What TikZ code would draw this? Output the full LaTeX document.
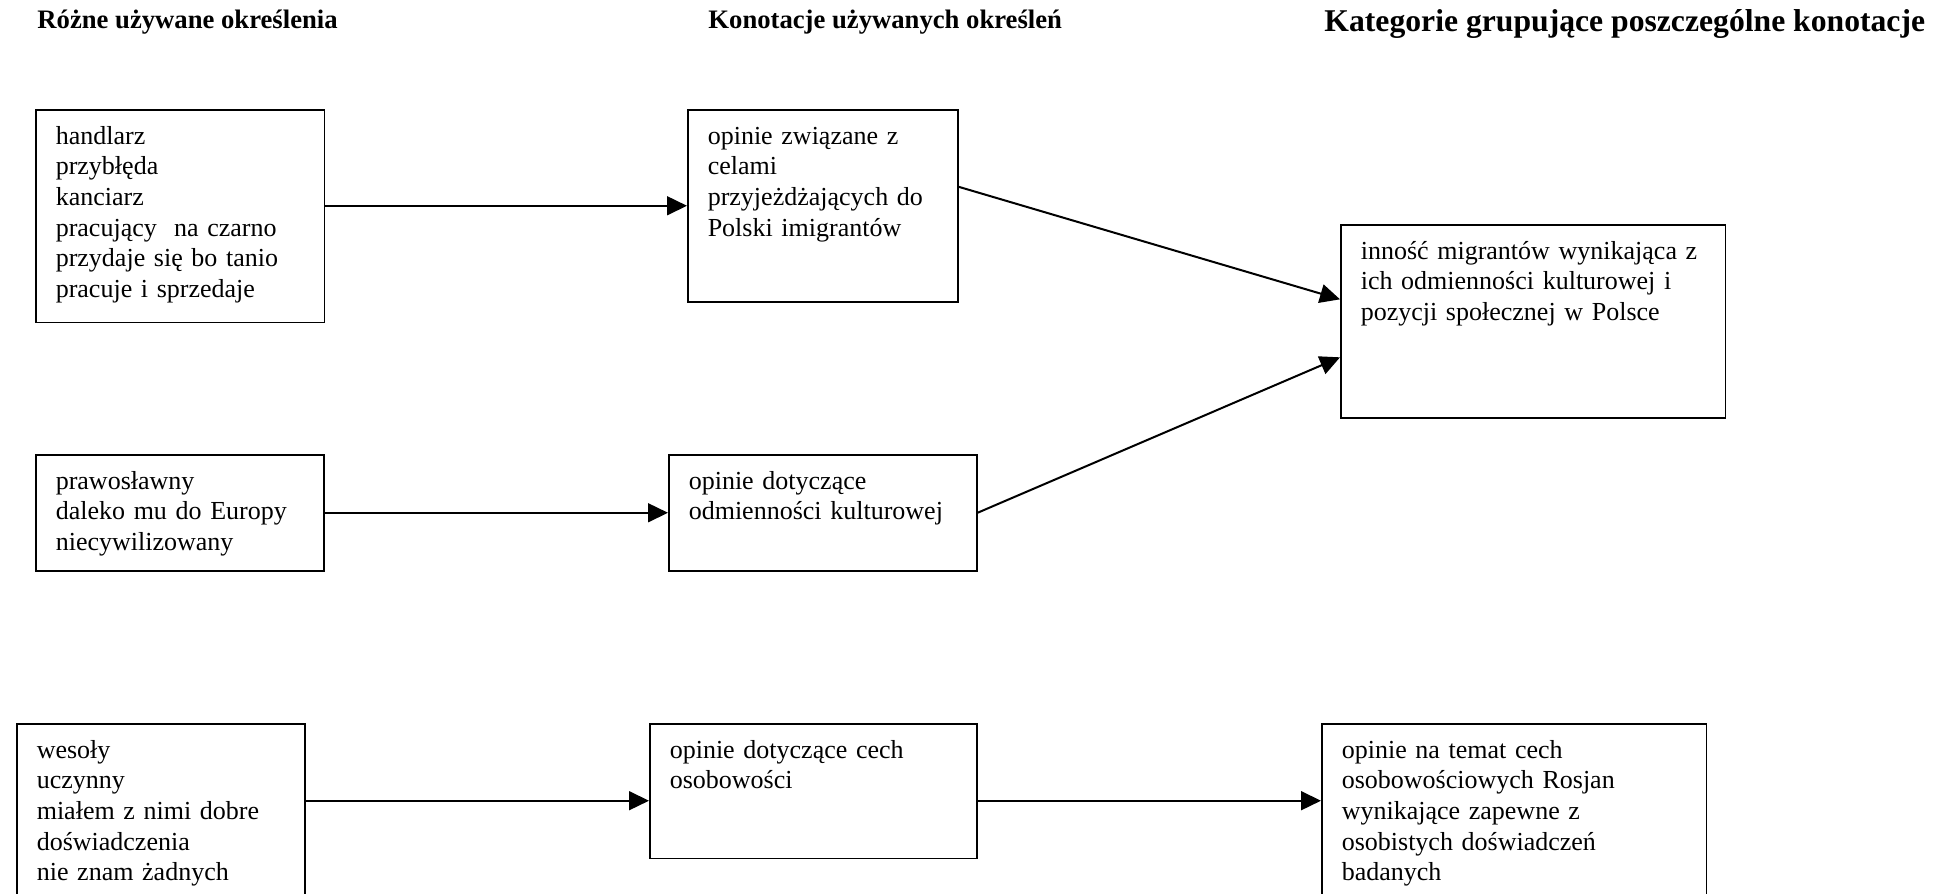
\documentclass[tikz,border=0pt]{standalone}
\usepackage{fontspec}
\setmainfont{Liberation Serif}
\usetikzlibrary{arrows.meta, calc}

\begin{document}
\begin{tikzpicture}[x=0.45pt, y=-0.45pt, >={Triangle[length=9pt, width=8.5pt]},
    box/.style={draw, rectangle, anchor=north west, align=left, line width=0.7pt,
        inner xsep=9pt, inner ysep=0pt, text height=15.5pt,
        font=\fontsize{11.7}{13.8}\selectfont},
    head/.style={anchor=base west, inner sep=0pt, font=\bfseries\fontsize{12}{14}\selectfont},
    link/.style={->, line width=0.9pt}]

    \clip (0,0) rectangle (1953,894);

    % Column headers
    \node[head] (T1) at (37,29) {Różne używane określenia};
    \node[head] (T2) at (708,29) {Konotacje używanych określeń};
    \node[head, font=\bfseries\fontsize{14.25}{16}\selectfont] (T3) at (1324,32) {Kategorie grupujące poszczególne konotacje};

    % First column
    \node[box, text width=112pt, text depth=80.3pt] (B1) at (35,109)
        {handlarz\\przybłęda\\kanciarz\\pracujący \ na czarno\\przydaje się bo tanio\\pracuje i sprzedaje};
    \node[box, text width=111.6pt, text depth=36.7pt] (B4) at (35,454)
        {prawosławny\\daleko mu do Europy\\niecywilizowany};
    \node[box, text width=111.6pt, text depth=80pt] (B6) at (16,723)
        {wesoły\\uczynny\\miałem z nimi dobre\\doświadczenia\\nie znam żadnych};

    % Second column
    \node[box, text width=103.5pt, text depth=70.9pt] (B2) at (687,109)
        {opinie związane z\\celami\\przyjeżdżających do\\Polski imigrantów};
    \node[box, text width=120.6pt, text depth=36.7pt] (B5) at (668,454)
        {opinie dotyczące\\odmienności kulturowej};
    \node[box, text width=129.2pt, text depth=45.2pt] (B7) at (649,723)
        {opinie dotyczące cech\\osobowości};

    % Third column
    \node[box, text width=155.2pt, text depth=71.4pt] (B3) at (1340,224)
        {inność migrantów wynikająca~z\\ich odmienności kulturowej i\\pozycji społecznej w Polsce};
    \node[box, text width=155.2pt, text depth=80pt] (B8) at (1321,723)
        {opinie na temat cech\\osobowościowych Rosjan\\wynikające zapewne z\\osobistych doświadczeń\\badanych};

    % Connectors
    \coordinate (c5) at ($(B7.west)+(0,9.5)$);
    \draw[link] (B1.east |- B2.west) -- (B2.west);
    \draw[link] (B4.east) -- (B5.west);
    \draw[link] ($(B2.east)+(0,-19)$) -- ($(B3.west)+(0,-22)$);
    \draw[link] (B5.east) -- ($(B3.west)+(0,36)$);
    \draw[link] (B6.east |- c5) -- (c5);
    \draw[link] (B7.east |- c5) -- (B8.west |- c5);

\end{tikzpicture}
\end{document}
